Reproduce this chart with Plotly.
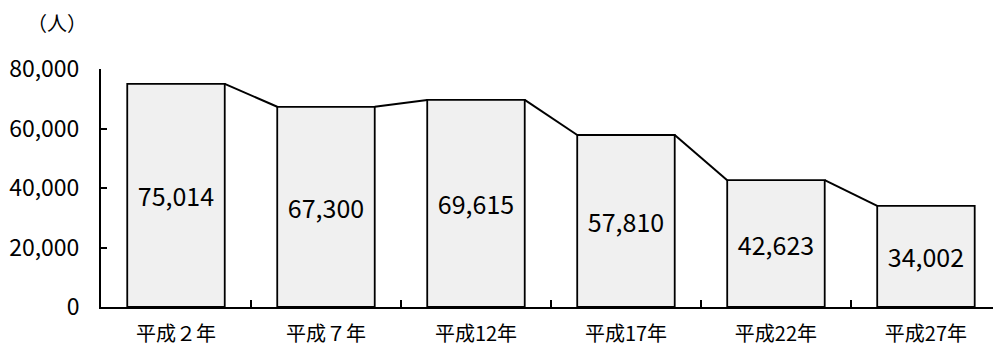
import plotly.graph_objects as go

# 年次別人口
years = ["平成２年", "平成７年", "平成12年", "平成17年", "平成22年", "平成27年"]
population = [75014, 67300, 69615, 57810, 42623, 34002]
y_ticks = [0, 20000, 40000, 60000, 80000]
y_tick_text = ["0", "20,000", "40,000", "60,000", "80,000"]

FONT = "Noto Sans CJK JP, sans-serif"
BAR_W = 0.65
idx = list(range(len(years)))

fig = go.Figure()
fig.add_trace(go.Bar(
    x=idx, y=population, width=BAR_W,
    marker=dict(color="#f0f0f0", line=dict(color="black", width=1.8)),
    text=[f"{v:,}" for v in population],
    textposition="inside", insidetextanchor="middle",
    textfont=dict(family=FONT, size=25, color="black"),
    textangle=0, hoverinfo="skip",
))

# 棒の上端をつなぐ線
for i in range(len(population) - 1):
    fig.add_trace(go.Scatter(
        x=[i + BAR_W / 2, i + 1 - BAR_W / 2],
        y=[population[i], population[i + 1]],
        mode="lines", line=dict(color="black", width=2),
        hoverinfo="skip", cliponaxis=False,
    ))

fig.update_layout(
    width=993, height=347,
    margin=dict(l=101, r=0, t=69, b=40),
    paper_bgcolor="white", plot_bgcolor="white",
    showlegend=False,
    font=dict(family=FONT, size=20, color="black"),
    annotations=[dict(text="（人）", xref="paper", yref="paper", x=-0.049, y=1.197,
                      xanchor="center", yanchor="middle", showarrow=False,
                      font=dict(family=FONT, size=20))],
)
fig.update_xaxes(
    range=[-0.5, 5.447], tickvals=idx, ticktext=years, ticks="",
    showline=True, linecolor="black", linewidth=2, showgrid=False, zeroline=False,
    tickfont=dict(family=FONT, size=20), ticklabelstandoff=8,
    minor=dict(tickvals=[i + 0.5 for i in idx[:-1]], ticks="inside", ticklen=7,
               tickcolor="black", tickwidth=2),
)
fig.update_yaxes(
    range=[0, 80000], tickvals=y_ticks, ticktext=y_tick_text,
    ticks="inside", ticklen=6, tickwidth=2, tickcolor="black",
    showline=True, linecolor="black", linewidth=2, showgrid=False, zeroline=False,
    tickfont=dict(family=FONT, size=23), ticklabelstandoff=15,
)

fig.write_html("out.html")
